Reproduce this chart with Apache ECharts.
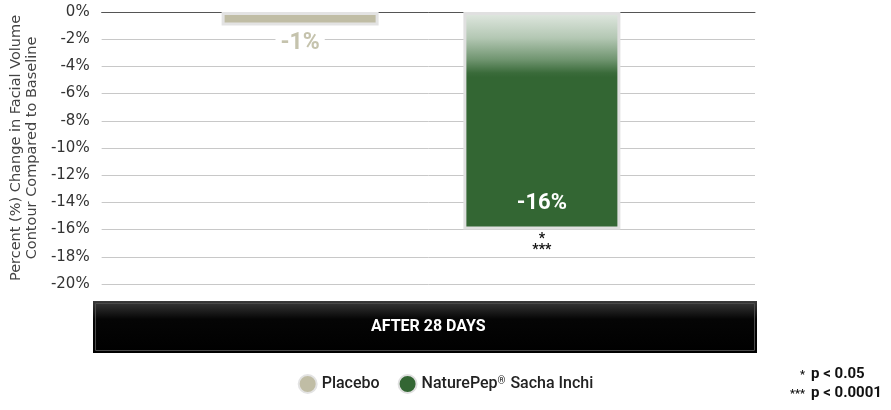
<!DOCTYPE html>
<html>
<head>
<meta charset="utf-8">
<script src="https://cdn.jsdelivr.net/npm/echarts@6/dist/echarts.min.js"></script>
<style>
html,body{margin:0;padding:0;background:#fff;}
#chart{width:891px;height:410px;}
</style>
</head>
<body>
<div id="chart"></div>
<script>
// ---- data ----
var categories = ['AFTER 28 DAYS'];
var seriesNames = ['Placebo', 'NaturePep® Sacha Inchi'];
var placeboValues = [-1];
var naturePepValues = [-16];
var significance = ['*\n***'];
var yTicks = {min: -20, max: 0, interval: 2};
var yAxisTitle = 'Percent (%) Change in Facial Volume\nContour Compared to Baseline';
var footnoteStars = ['*', '***'];
var footnoteTexts = ['p < 0.05', 'p < 0.0001'];

var placeboColor = '#c0bda5';
var greenColor = '#336633';

var chart = echarts.init(document.getElementById('chart'), null, {renderer: 'canvas'});

var greenGradient = new echarts.graphic.LinearGradient(0, 0, 0, 1, [
  {offset: 0, color: '#e2e9e2'},
  {offset: 0.12, color: '#b3c7b3'},
  {offset: 0.22, color: '#6f946f'},
  {offset: 0.28, color: '#3a6b3a'},
  {offset: 0.30, color: greenColor},
  {offset: 1, color: greenColor}
]);

var option = {
  animation: false,
  textStyle: {fontFamily: 'Roboto'},
  grid: [
    {left: 95, right: 136, top: 12, bottom: 126, containLabel: false},
    {left: 95, right: 144, top: 12, bottom: 126, containLabel: false}
  ],
  legend: {
    left: 'center',
    top: 369,
    icon: 'circle',
    itemWidth: 18,
    itemHeight: 18,
    itemGap: 18,
    formatter: function (name) {
      if (name.indexOf('®') >= 0) {
        var parts = name.split('®');
        return '{a|' + parts[0] + '}{sup|®}{a|' + parts[1] + '}';
      }
      return '{a|' + name + '}';
    },
    textStyle: {
      fontSize: 16, color: '#222', fontWeight: 500, fontFamily: 'Roboto',
      rich: {
        a: {fontSize: 16, color: '#222', fontWeight: 500, fontFamily: 'Roboto'},
        sup: {fontSize: 10, color: '#222', fontWeight: 500, fontFamily: 'Roboto', verticalAlign: 'top', padding: [0, 1, 6, 0]}
      }
    },
    data: [
      {name: seriesNames[0], itemStyle: {color: placeboColor}},
      {name: seriesNames[1], itemStyle: {color: greenColor}}
    ]
  },
  xAxis: [
    {
      type: 'category',
      gridIndex: 0,
      data: categories,
      position: 'bottom',
      axisLine: {show: false, onZero: false},
      axisTick: {show: false},
      axisLabel: {
        show: true, margin: 35, color: '#fff', fontSize: 16, fontWeight: 'bold', fontFamily: 'Roboto'
      },
      z: 10
    },
    {
      type: 'category',
      gridIndex: 0,
      data: categories,
      position: 'top',
      axisLine: {show: true, onZero: false, lineStyle: {color: '#555', width: 1}},
      axisTick: {show: false},
      axisLabel: {show: false}
    },
    {
      type: 'category',
      gridIndex: 1,
      data: categories,
      show: false
    }
  ],
  yAxis: [
    {
      type: 'value',
      gridIndex: 0,
      min: yTicks.min,
      max: yTicks.max,
      interval: yTicks.interval,
      axisLine: {show: false},
      axisTick: {show: false},
      axisLabel: {
        formatter: '{value}%', color: '#333', fontSize: 15, margin: 12, fontFamily: 'DejaVu Sans'
      },
      splitLine: {lineStyle: {color: '#c8c8c8', width: 1}},
      name: yAxisTitle,
      nameLocation: 'middle',
      nameGap: 52,
      nameTextStyle: {color: '#444', fontSize: 14.5, lineHeight: 16, fontFamily: 'DejaVu Sans', align: 'center'}
    },
    {
      type: 'value',
      gridIndex: 1,
      min: yTicks.min,
      max: yTicks.max,
      interval: yTicks.interval,
      show: false,
      splitLine: {show: false}
    }
  ],
  graphic: [
    {
      type: 'rect', z: 1,
      shape: {x: 93, y: 301, width: 664, height: 52},
      style: {
        fill: new echarts.graphic.LinearGradient(0, 0, 0, 1, [
          {offset: 0, color: '#3a3a3a'},
          {offset: 0.35, color: '#050505'},
          {offset: 1, color: '#000'}
        ])
      }
    },
    {
      type: 'rect', z: 2,
      shape: {x: 95.5, y: 303.5, width: 659, height: 47},
      style: {fill: 'none', stroke: '#4a4a4a', lineWidth: 1}
    },
    {
      type: 'text', z: 5,
      x: 805, y: 370,
      style: {text: footnoteStars[0], textAlign: 'right', fill: '#111', font: 'bold 11px Roboto'}
    },
    {
      type: 'text', z: 5,
      x: 805, y: 389,
      style: {text: footnoteStars[1], textAlign: 'right', fill: '#111', font: 'bold 11px Roboto'}
    },
    {
      type: 'text', z: 5,
      x: 811, y: 367,
      style: {text: footnoteTexts[0], textAlign: 'left', fill: '#111', font: 'bold 15px Roboto'}
    },
    {
      type: 'text', z: 5,
      x: 811, y: 386,
      style: {text: footnoteTexts[1], textAlign: 'left', fill: '#111', font: 'bold 15px Roboto'}
    }
  ],
  series: [
    {
      name: seriesNames[0],
      type: 'bar',
      xAxisIndex: 2,
      yAxisIndex: 1,
      barWidth: 157,
      barGap: '54%',
      data: placeboValues,
      itemStyle: {color: placeboColor, borderColor: '#e3e3e3', borderWidth: 3},
      label: {
        show: true,
        position: 'bottom',
        distance: 6,
        formatter: function (p) { return p.value + '%'; },
        color: '#c5c3ad',
        fontSize: 23,
        fontWeight: 'bold',
        fontFamily: 'Roboto',
        backgroundColor: '#fff',
        padding: [0, 5]
      }
    },
    {
      name: seriesNames[1],
      type: 'bar',
      xAxisIndex: 2,
      yAxisIndex: 1,
      barWidth: 157,
      data: naturePepValues.map(function (v) { return {value: v, itemStyle: {color: greenGradient}}; }),
      itemStyle: {color: greenColor, borderColor: '#e0e0e0', borderWidth: 3},
      label: {
        show: true,
        position: 'insideBottom',
        distance: 15,
        formatter: function (p) { return p.value + '%'; },
        color: '#fff',
        fontSize: 22,
        fontWeight: 'bold',
        fontFamily: 'Roboto'
      },
      markPoint: {
        symbol: 'circle',
        symbolSize: 1,
        itemStyle: {color: 'rgba(0,0,0,0)'},
        label: {
          show: true,
          position: 'bottom',
          distance: 4,
          formatter: function (p) { return significance[p.dataIndex]; },
          color: '#111',
          fontSize: 14,
          fontWeight: 'bold',
          lineHeight: 11,
          fontFamily: 'Roboto'
        },
        data: naturePepValues.map(function (v, i) { return {coord: [categories[i], v]}; })
      }
    }
  ]
};
chart.setOption(option);
</script>
</body>
</html>
